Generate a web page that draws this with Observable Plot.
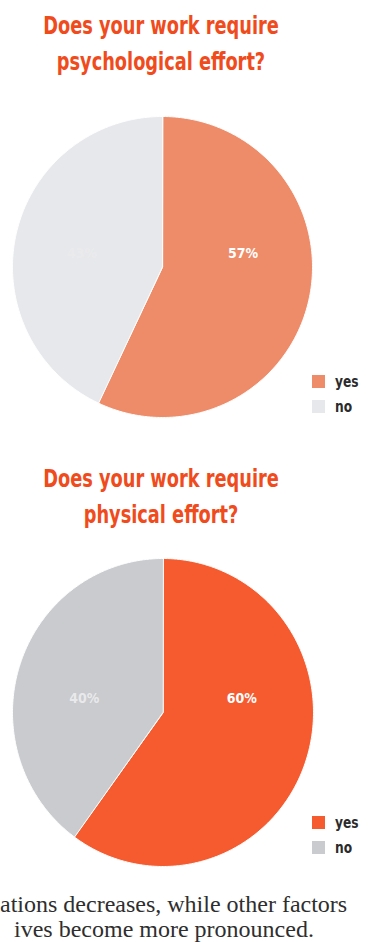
<!DOCTYPE html>
<html>
<head>
<meta charset="utf-8">
<script src="https://cdn.jsdelivr.net/npm/d3@7"></script>
<script src="https://cdn.jsdelivr.net/npm/@observablehq/plot@0.6"></script>
<style>
  html, body { margin: 0; padding: 0; background: #ffffff; }
  #page { position: relative; width: 374px; height: 942px; overflow: hidden; background: #fff; }
  .title { position: absolute; left: 0; width: 322px; text-align: center;
    font-family: "DejaVu Sans Condensed", "Liberation Sans Narrow", sans-serif;
    font-weight: bold; font-size: 25px; line-height: 36px; color: #f04b1c;
    transform: scaleX(0.79); transform-origin: 161px 0; }
  .chart { position: absolute; left: 0; }
  .legend { position: absolute; left: 312px;
    font-family: "DejaVu Sans Condensed", sans-serif;
    font-weight: bold; font-size: 16px; color: #2b2b2b; }
  .legend .item { display: flex; align-items: center; height: 25px; }
  .legend .sw { width: 13px; height: 13px; margin-right: 10px; }
  .legend .lt { display: inline-block; transform: scaleX(0.85); transform-origin: 0 50%; }
  .body { position: absolute; left: 0; white-space: nowrap;
    font-family: "Liberation Serif", "DejaVu Serif", serif; font-size: 24px; color: #2e2e2e; line-height: 25px; }
</style>
</head>
<body>
<div id="page"></div>
<script>
// ---- data ----
const answers = ["yes", "no"];
const titles1 = ["Does your work require", "psychological effort?"];
const titles2 = ["Does your work require", "physical effort?"];
const psychValues = [57, 43];
const physValues = [60, 40];
const psychLabels = ["57%", "43%"];
const physLabels = ["60%", "40%"];
const psychColors = ["#ee8b68", "#e7e8eb"];
const physColors = ["#f55b2f", "#c9cbce"];
const bodyLines = ["ations decreases, while other factors", "ives become more pronounced."];

const page = document.getElementById("page");

function addTitle(lines, top) {
  const d = document.createElement("div");
  d.className = "title";
  d.style.top = top + "px";
  d.innerHTML = lines.join("<br>");
  page.appendChild(d);
}

function pieChart(values, labels, colors, labelOpacity, opts) {
  const arcs = d3.pie().sort(null)(values);
  const pts = [];
  arcs.forEach((a, i) => {
    pts.push({answer: answers[i], x: 0, y: 0});
    const n = Math.max(2, Math.ceil((a.endAngle - a.startAngle) / 0.01));
    for (let k = 0; k <= n; k++) {
      const t = a.startAngle + (a.endAngle - a.startAngle) * k / n;
      pts.push({answer: answers[i], x: Math.sin(t), y: Math.cos(t)});
    }
  });
  const lab = arcs.map((a, i) => {
    const m = (a.startAngle + a.endAngle) / 2;
    return {answer: answers[i], text: labels[i], x: Math.sin(m) * 0.55, y: 0.09, op: labelOpacity[i]};
  });
  const plot = Plot.plot({
    width: 374,
    height: opts.height,
    marginLeft: opts.ml, marginRight: opts.mr, marginTop: opts.mt, marginBottom: opts.mb,
    x: {domain: [-1, 1], axis: null},
    y: {domain: [-1, 1], axis: null},
    color: {domain: answers, range: colors},
    style: {background: "transparent", overflow: "visible"},
    marks: [
      Plot.line(pts, {x: "x", y: "y", z: "answer", fill: "answer", stroke: "#ffffff", strokeWidth: 1, curve: "linear-closed"}),
      Plot.text(lab, {x: "x", y: "y", text: "text", fill: "#ffffff", fillOpacity: "op",
        fontSize: 14, fontWeight: "bold", fontFamily: "DejaVu Sans Condensed, sans-serif"})
    ]
  });
  plot.classList.add("chart");
  plot.style.top = opts.top + "px";
  page.appendChild(plot);

  const sc = plot.scale("color");
  const lg = document.createElement("div");
  lg.className = "legend";
  lg.style.top = opts.legendTop + "px";
  sc.domain.forEach((d, i) => {
    const it = document.createElement("div");
    it.className = "item";
    it.innerHTML = `<span class="sw" style="background:${sc.range[i]}"></span><span class="lt">${d}</span>`;
    lg.appendChild(it);
  });
  page.appendChild(lg);
}

addTitle(titles1, 8);
pieChart(psychValues, psychLabels, psychColors, [1, 0.15],
  {top: 100, height: 330, ml: 12, mr: 62, mt: 16, mb: 13, legendTop: 369});
addTitle(titles2, 461);
pieChart(physValues, physLabels, physColors, [1, 0.6],
  {top: 550, height: 330, ml: 12, mr: 61, mt: 8, mb: 14, legendTop: 810});

const body = document.createElement("div");
body.className = "body";
body.style.top = "892px";
body.innerHTML = `<div>${bodyLines[0]}</div><div style="padding-left:14px">${bodyLines[1]}</div>`;
page.appendChild(body);
</script>
</body>
</html>
